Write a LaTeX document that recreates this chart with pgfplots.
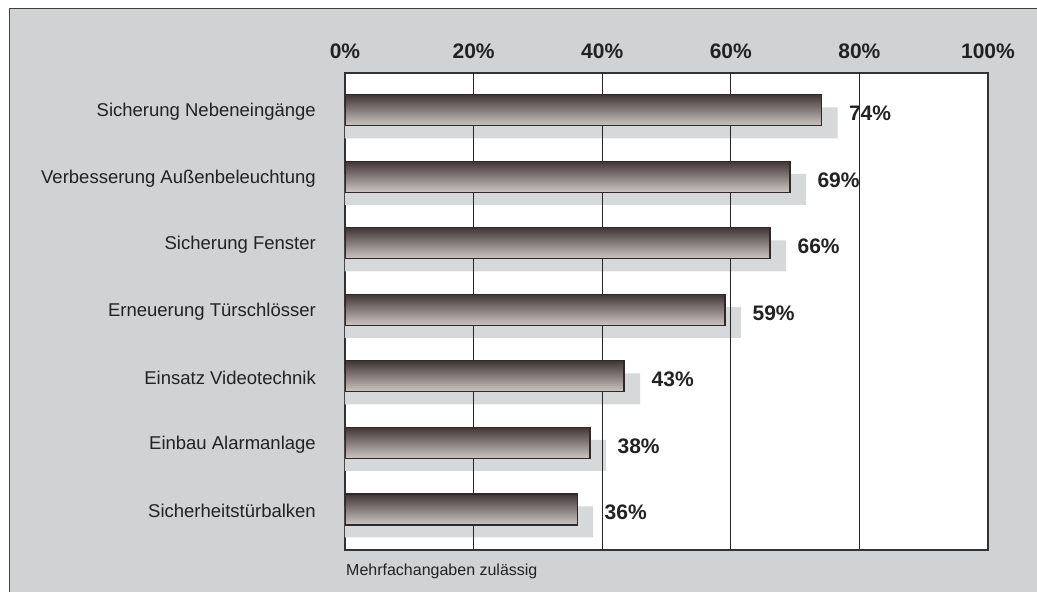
\documentclass[border=0pt]{standalone}
\usepackage{pgfplots}
\pgfplotsset{compat=1.18}
\usepackage{fontspec}
\setmainfont{Liberation Sans}
\definecolor{bggray}{HTML}{D1D2D4}
\definecolor{shadowgray}{HTML}{D7D8DA}
\definecolor{bartop}{HTML}{403636}
\definecolor{barbot}{HTML}{CDC7C4}
\definecolor{baredge}{HTML}{2E2828}
\definecolor{txt}{HTML}{222222}
\pgfplotstableread{
y v
5.812 76.6
4.812 71.7
3.812 68.6
2.812 61.6
1.812 45.9
0.812 40.6
-0.188 38.6
}\shadowtab
\pgfplotsset{
  mybar/.style={xbar, bar width=0.466, bar shift=0pt, top color=bartop, bottom color=barbot,
    draw=baredge, line width=1.2pt, forget plot,
    nodes near coords={#1\%},
    nodes near coords style={font=\fontsize{21}{25}\selectfont\bfseries, text=txt, anchor=west, inner sep=0pt, xshift=27pt, yshift=-3pt}},
  gline/.style={black!85, line width=1pt, forget plot},
}
\begin{document}
\begin{tikzpicture}
\useasboundingbox (0pt,0pt) rectangle (1037pt,592pt);
\fill[white] (0pt,0pt) rectangle (1037pt,592pt);
\filldraw[fill=bggray, draw=black!75, line width=0.8pt] (9pt,-10pt) rectangle (1050pt,584pt);
\begin{axis}[
  at={(345pt,42pt)}, anchor=south west,
  scale only axis, width=643pt, height=477pt,
  xmin=0, xmax=100, ymin=-0.61, ymax=6.56,
  axis background/.style={fill=white},
  axis line style={draw=black!80, line width=1.2pt},
  xtick={0,20,40,60,80,100},
  xticklabels={0\%,20\%,40\%,60\%,80\%,100\%},
  xticklabel pos=upper,
  xticklabel style={font=\fontsize{21}{25}\selectfont\bfseries, text=txt, inner sep=0pt, anchor=base, yshift=14.7pt},
  ytick={0,1,2,3,4,5,6},
  yticklabels={Sicherheitstürbalken,Einbau Alarmanlage,Einsatz Videotechnik,Erneuerung Türschlösser,Sicherung Fenster,Verbesserung Außenbeleuchtung,Sicherung Nebeneingänge},
  yticklabel style={font=\fontsize{18.5}{22}\selectfont, text=txt, inner sep=0pt, anchor=east, xshift=-29pt, yshift=-1.5pt},
  major tick length=0pt,
  tick style={draw=none},
  clip=true,
]
\addplot[xbar, bar width=0.466, bar shift=0pt, fill=shadowgray, draw=none, forget plot]
  table[x=v, y=y] {\shadowtab};
\addplot[gline] coordinates {(20,-0.61) (20,6.56)};
\addplot[gline] coordinates {(40,-0.61) (40,6.56)};
\addplot[gline] coordinates {(60,-0.61) (60,6.56)};
\addplot[gline] coordinates {(80,-0.61) (80,6.56)};
\addplot[mybar=74] coordinates {(74.1,6)};
\addplot[mybar=69] coordinates {(69.2,5)};
\addplot[mybar=66] coordinates {(66.1,4)};
\addplot[mybar=59] coordinates {(59.1,3)};
\addplot[mybar=43] coordinates {(43.4,2)};
\addplot[mybar=38] coordinates {(38.1,1)};
\addplot[mybar=36] coordinates {(36.1,0)};
\end{axis}
\node[anchor=base west, inner sep=0pt, text=txt, font=\fontsize{16}{19}\selectfont] at (346pt,16.3pt) {Mehrfachangaben zulässig};
\end{tikzpicture}
\end{document}
